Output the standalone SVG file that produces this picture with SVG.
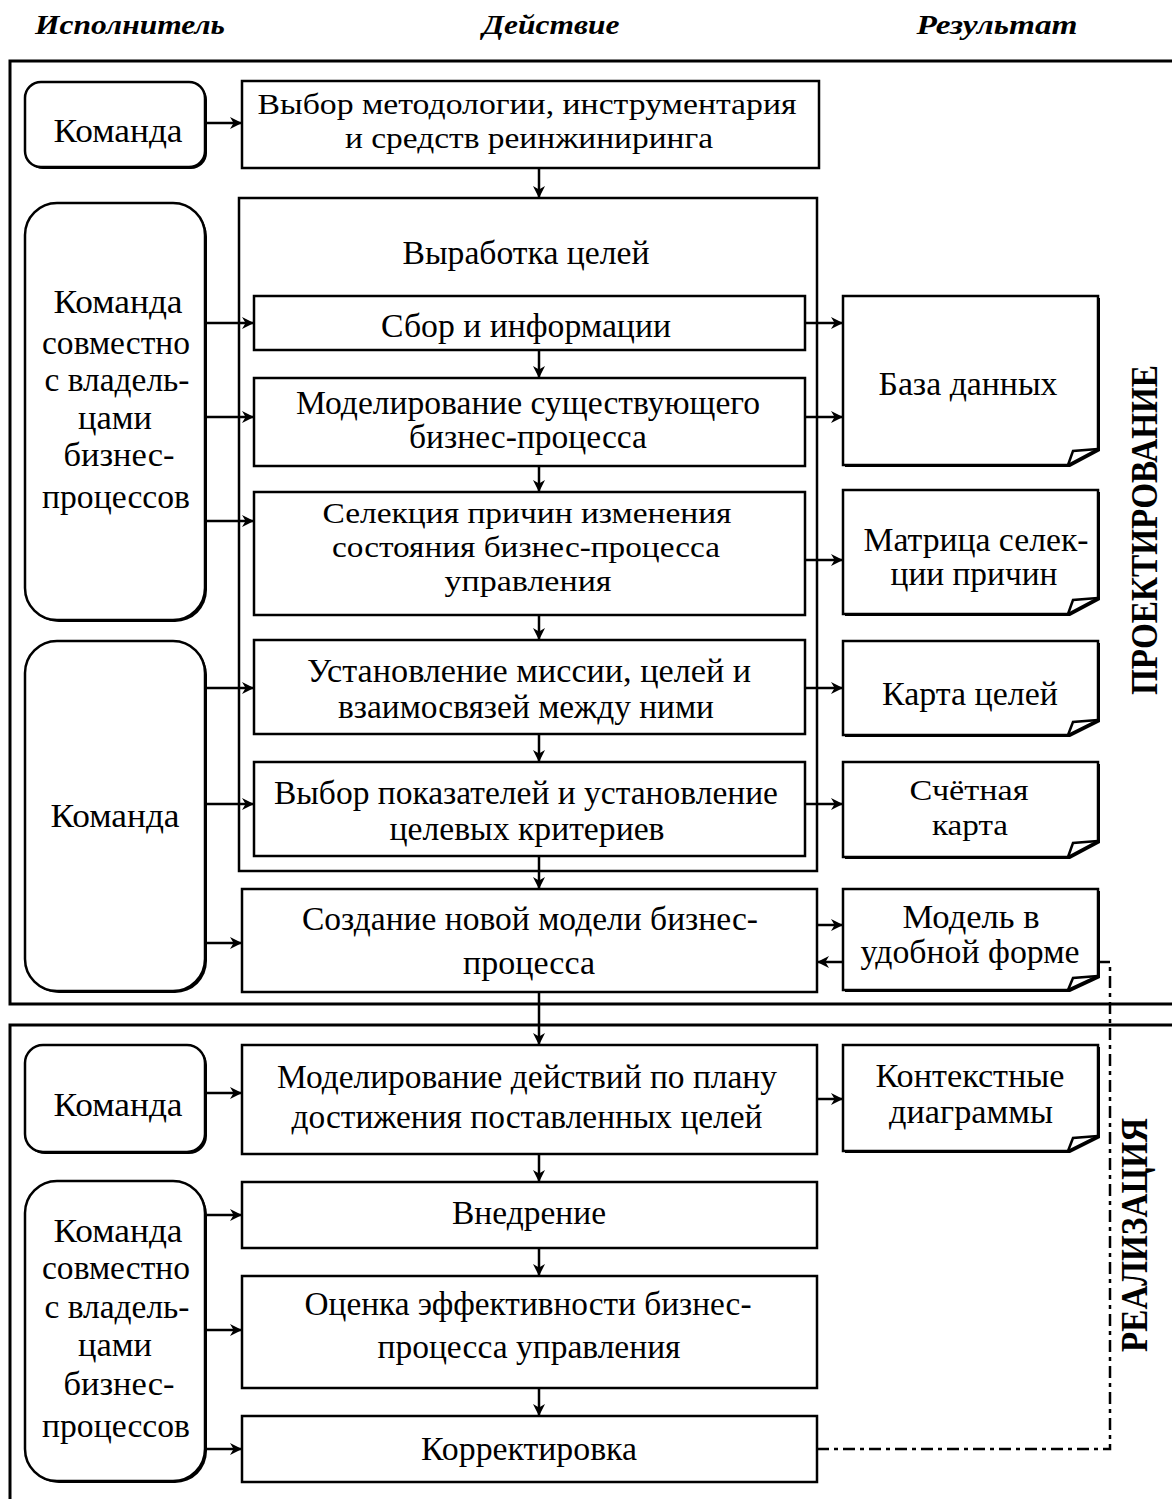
<svg xmlns="http://www.w3.org/2000/svg" width="1172" height="1499" viewBox="0 0 1172 1499">
<style>
.t{font-family:"Liberation Serif","Times New Roman",serif;font-size:34px;fill:#000;text-anchor:middle}
.s{font-size:30px}
.h{font-family:"Liberation Serif","Times New Roman",serif;font-size:28px;font-weight:bold;font-style:italic;fill:#000;text-anchor:middle}
.v{font-family:"Liberation Serif","Times New Roman",serif;font-size:38px;font-weight:bold;fill:#000;text-anchor:middle}
.frame{fill:none;stroke:#000;stroke-width:3}
.box{fill:#fff;stroke:#000;stroke-width:2.5}
.sh{fill:#000}
.c{fill:none;stroke:#000;stroke-width:2.5}
.cd{fill:none;stroke:#000;stroke-width:2.5;stroke-dasharray:12 5 4 5}
</style>
<defs>
<marker id="a" markerUnits="userSpaceOnUse" markerWidth="12" markerHeight="12" refX="10" refY="5" orient="auto" viewBox="0 0 10 10">
<path d="M0,0 L10,5 L0,10 L3,5 Z" fill="#000"/>
</marker>
</defs>
<rect width="1172" height="1499" fill="#fff"/>

<g id="headers">
<text class="h" x="130" y="34" textLength="190" lengthAdjust="spacingAndGlyphs">Исполнитель</text>
<text class="h" x="551" y="34" textLength="137" lengthAdjust="spacingAndGlyphs">Действие</text>
<text class="h" x="997" y="34" textLength="161" lengthAdjust="spacingAndGlyphs">Результат</text>
</g>

<g id="frames">
<path class="frame" d="M1172,61 H10 V1004 H1172"/>
<path class="frame" d="M1172,1025 H10 V1499"/>
</g>

<g id="phase-labels">
<text class="v" transform="translate(1157,530) rotate(-90)" textLength="330" lengthAdjust="spacingAndGlyphs">ПРОЕКТИРОВАНИЕ</text>
<text class="v" transform="translate(1147,1235) rotate(-90)" textLength="234" lengthAdjust="spacingAndGlyphs">РЕАЛИЗАЦИЯ</text>
</g>

<!-- Actors -->
<g id="actor1">
<rect class="sh" x="27" y="84" width="180" height="85" rx="16"/>
<rect class="box" x="25" y="82" width="180" height="85" rx="16"/>
<text class="t" x="118" y="142" textLength="129" lengthAdjust="spacingAndGlyphs">Команда</text>
</g>
<g id="actor2">
<rect class="sh" x="27" y="205" width="180" height="417" rx="32"/>
<rect class="box" x="25" y="203" width="180" height="417" rx="32"/>
<text class="t" x="118" y="313" textLength="129" lengthAdjust="spacingAndGlyphs">Команда</text>
<text class="t" x="116" y="354" textLength="148" lengthAdjust="spacingAndGlyphs">совместно</text>
<text class="t" x="117" y="391" textLength="145" lengthAdjust="spacingAndGlyphs">с владель-</text>
<text class="t" x="115" y="429" textLength="74" lengthAdjust="spacingAndGlyphs">цами</text>
<text class="t" x="119" y="466" textLength="111" lengthAdjust="spacingAndGlyphs">бизнес-</text>
<text class="t" x="116" y="508" textLength="148" lengthAdjust="spacingAndGlyphs">процессов</text>
</g>
<g id="actor3">
<rect class="sh" x="27" y="643" width="180" height="350" rx="32"/>
<rect class="box" x="25" y="641" width="180" height="350" rx="32"/>
<text class="t" x="115" y="827" textLength="129" lengthAdjust="spacingAndGlyphs">Команда</text>
</g>
<g id="actor4">
<rect class="sh" x="27" y="1047" width="180" height="107" rx="18"/>
<rect class="box" x="25" y="1045" width="180" height="107" rx="18"/>
<text class="t" x="118" y="1116" textLength="129" lengthAdjust="spacingAndGlyphs">Команда</text>
</g>
<g id="actor5">
<rect class="sh" x="27" y="1183" width="180" height="300" rx="32"/>
<rect class="box" x="25" y="1181" width="180" height="300" rx="32"/>
<text class="t" x="118" y="1242" textLength="129" lengthAdjust="spacingAndGlyphs">Команда</text>
<text class="t" x="116" y="1279" textLength="148" lengthAdjust="spacingAndGlyphs">совместно</text>
<text class="t" x="117" y="1318" textLength="145" lengthAdjust="spacingAndGlyphs">с владель-</text>
<text class="t" x="115" y="1356" textLength="74" lengthAdjust="spacingAndGlyphs">цами</text>
<text class="t" x="119" y="1395" textLength="111" lengthAdjust="spacingAndGlyphs">бизнес-</text>
<text class="t" x="116" y="1437" textLength="148" lengthAdjust="spacingAndGlyphs">процессов</text>
</g>

<!-- Actions -->
<g id="act-methodology">
<rect class="box" x="242" y="81" width="577" height="87"/>
<text class="t s" x="527" y="114" textLength="539" lengthAdjust="spacingAndGlyphs">Выбор методологии, инструментария</text>
<text class="t s" x="529" y="148" textLength="368" lengthAdjust="spacingAndGlyphs">и средств реинжиниринга</text>
</g>
<g id="act-goals">
<rect class="box" x="239" y="198" width="578" height="673"/>
<text class="t" x="526" y="264" textLength="247" lengthAdjust="spacingAndGlyphs">Выработка целей</text>
</g>
<g id="act-collect">
<rect class="box" x="254" y="296" width="551" height="54"/>
<text class="t" x="526" y="337" textLength="290" lengthAdjust="spacingAndGlyphs">Сбор и информации</text>
</g>
<g id="act-model-existing">
<rect class="box" x="254" y="378" width="551" height="88"/>
<text class="t" x="528" y="414" textLength="464" lengthAdjust="spacingAndGlyphs">Моделирование существующего</text>
<text class="t" x="528" y="448" textLength="238" lengthAdjust="spacingAndGlyphs">бизнес-процесса</text>
</g>
<g id="act-selection">
<rect class="box" x="254" y="492" width="551" height="123"/>
<text class="t s" x="527" y="523" textLength="409" lengthAdjust="spacingAndGlyphs">Селекция причин изменения</text>
<text class="t s" x="526" y="557" textLength="388" lengthAdjust="spacingAndGlyphs">состояния бизнес-процесса</text>
<text class="t s" x="528" y="591" textLength="167" lengthAdjust="spacingAndGlyphs">управления</text>
</g>
<g id="act-mission">
<rect class="box" x="254" y="640" width="551" height="94"/>
<text class="t" x="529" y="682" textLength="444" lengthAdjust="spacingAndGlyphs">Установление миссии, целей и</text>
<text class="t" x="526" y="718" textLength="376" lengthAdjust="spacingAndGlyphs">взаимосвязей между ними</text>
</g>
<g id="act-indicators">
<rect class="box" x="254" y="762" width="551" height="94"/>
<text class="t" x="526" y="804" textLength="504" lengthAdjust="spacingAndGlyphs">Выбор показателей и установление</text>
<text class="t" x="527" y="840" textLength="275" lengthAdjust="spacingAndGlyphs">целевых критериев</text>
</g>
<g id="act-new-model">
<rect class="box" x="242" y="889" width="575" height="103"/>
<text class="t" x="530" y="930" textLength="456" lengthAdjust="spacingAndGlyphs">Создание новой модели бизнес-</text>
<text class="t" x="529" y="974" textLength="132" lengthAdjust="spacingAndGlyphs">процесса</text>
</g>
<g id="act-plan">
<rect class="box" x="242" y="1045" width="575" height="109"/>
<text class="t" x="527" y="1088" textLength="500" lengthAdjust="spacingAndGlyphs">Моделирование действий по плану</text>
<text class="t" x="527" y="1128" textLength="471" lengthAdjust="spacingAndGlyphs">достижения поставленных целей</text>
</g>
<g id="act-implement">
<rect class="box" x="242" y="1182" width="575" height="66"/>
<text class="t" x="529" y="1224" textLength="154" lengthAdjust="spacingAndGlyphs">Внедрение</text>
</g>
<g id="act-evaluate">
<rect class="box" x="242" y="1276" width="575" height="112"/>
<text class="t" x="528" y="1315" textLength="447" lengthAdjust="spacingAndGlyphs">Оценка эффективности бизнес-</text>
<text class="t" x="529" y="1358" textLength="303" lengthAdjust="spacingAndGlyphs">процесса управления</text>
</g>
<g id="act-correct">
<rect class="box" x="242" y="1416" width="575" height="66"/>
<text class="t" x="529" y="1460" textLength="216" lengthAdjust="spacingAndGlyphs">Корректировка</text>
</g>

<!-- Results -->
<g id="res-db">
<path class="sh" d="M845,298 H1100 V451 L1070,467 H845 Z"/>
<path class="box" d="M843,296 H1098 V449 L1068,465 H843 Z"/>
<path class="c" d="M1068,465 L1073,451 L1098,449"/>
<text class="t" x="968" y="395" textLength="179" lengthAdjust="spacingAndGlyphs">База данных</text>
</g>
<g id="res-matrix">
<path class="sh" d="M845,492 H1100 V600 L1070,616 H845 Z"/>
<path class="box" d="M843,490 H1098 V598 L1068,614 H843 Z"/>
<path class="c" d="M1068,614 L1073,600 L1098,598"/>
<text class="t" x="976" y="551" textLength="225" lengthAdjust="spacingAndGlyphs">Матрица селек-</text>
<text class="t" x="974" y="585" textLength="167" lengthAdjust="spacingAndGlyphs">ции причин</text>
</g>
<g id="res-goalmap">
<path class="sh" d="M845,643 H1100 V722 L1070,737 H845 Z"/>
<path class="box" d="M843,641 H1098 V720 L1068,735 H843 Z"/>
<path class="c" d="M1068,735 L1073,722 L1098,720"/>
<text class="t" x="970" y="705" textLength="176" lengthAdjust="spacingAndGlyphs">Карта целей</text>
</g>
<g id="res-scorecard">
<path class="sh" d="M845,764 H1100 V843 L1070,859 H845 Z"/>
<path class="box" d="M843,762 H1098 V841 L1068,857 H843 Z"/>
<path class="c" d="M1068,857 L1073,843 L1098,841"/>
<text class="t s" x="969" y="800" textLength="119" lengthAdjust="spacingAndGlyphs">Счётная</text>
<text class="t s" x="970" y="835" textLength="76" lengthAdjust="spacingAndGlyphs">карта</text>
</g>
<g id="res-model">
<path class="sh" d="M845,891 H1100 V978 L1070,992 H845 Z"/>
<path class="box" d="M843,889 H1098 V976 L1068,990 H843 Z"/>
<path class="c" d="M1068,990 L1073,978 L1098,976"/>
<text class="t" x="971" y="928" textLength="137" lengthAdjust="spacingAndGlyphs">Модель в</text>
<text class="t" x="970" y="963" textLength="219" lengthAdjust="spacingAndGlyphs">удобной форме</text>
</g>
<g id="res-context">
<path class="sh" d="M845,1047 H1100 V1138 L1070,1153 H845 Z"/>
<path class="box" d="M843,1045 H1098 V1136 L1068,1151 H843 Z"/>
<path class="c" d="M1068,1151 L1073,1138 L1098,1136"/>
<text class="t" x="970" y="1087" textLength="189" lengthAdjust="spacingAndGlyphs">Контекстные</text>
<text class="t" x="971" y="1123" textLength="164" lengthAdjust="spacingAndGlyphs">диаграммы</text>
</g>

<g id="connectors">
<path class="c" marker-end="url(#a)" d="M207,123 H242"/>
<path class="c" marker-end="url(#a)" d="M207,323 H254"/>
<path class="c" marker-end="url(#a)" d="M207,417 H254"/>
<path class="c" marker-end="url(#a)" d="M207,521 H254"/>
<path class="c" marker-end="url(#a)" d="M207,688 H254"/>
<path class="c" marker-end="url(#a)" d="M207,804 H254"/>
<path class="c" marker-end="url(#a)" d="M207,943 H242"/>
<path class="c" marker-end="url(#a)" d="M207,1093 H242"/>
<path class="c" marker-end="url(#a)" d="M207,1215 H242"/>
<path class="c" marker-end="url(#a)" d="M207,1330 H242"/>
<path class="c" marker-end="url(#a)" d="M207,1449 H242"/>
<path class="c" marker-end="url(#a)" d="M805,323 H843"/>
<path class="c" marker-end="url(#a)" d="M805,417 H843"/>
<path class="c" marker-end="url(#a)" d="M805,560 H843"/>
<path class="c" marker-end="url(#a)" d="M805,688 H843"/>
<path class="c" marker-end="url(#a)" d="M805,804 H843"/>
<path class="c" marker-end="url(#a)" d="M817,925 H843"/>
<path class="c" marker-end="url(#a)" d="M843,962 H817"/>
<path class="c" marker-end="url(#a)" d="M817,1099 H843"/>
<path class="c" marker-end="url(#a)" d="M539,168 V198"/>
<path class="c" marker-end="url(#a)" d="M539,350 V378"/>
<path class="c" marker-end="url(#a)" d="M539,466 V492"/>
<path class="c" marker-end="url(#a)" d="M539,615 V640"/>
<path class="c" marker-end="url(#a)" d="M539,734 V762"/>
<path class="c" marker-end="url(#a)" d="M539,856 V889"/>
<path class="c" marker-end="url(#a)" d="M539,992 V1045"/>
<path class="c" marker-end="url(#a)" d="M539,1154 V1182"/>
<path class="c" marker-end="url(#a)" d="M539,1248 V1276"/>
<path class="c" marker-end="url(#a)" d="M539,1388 V1416"/>
<path class="cd" d="M817,1449 H1110 V962 H1100"/>
</g>
</svg>
